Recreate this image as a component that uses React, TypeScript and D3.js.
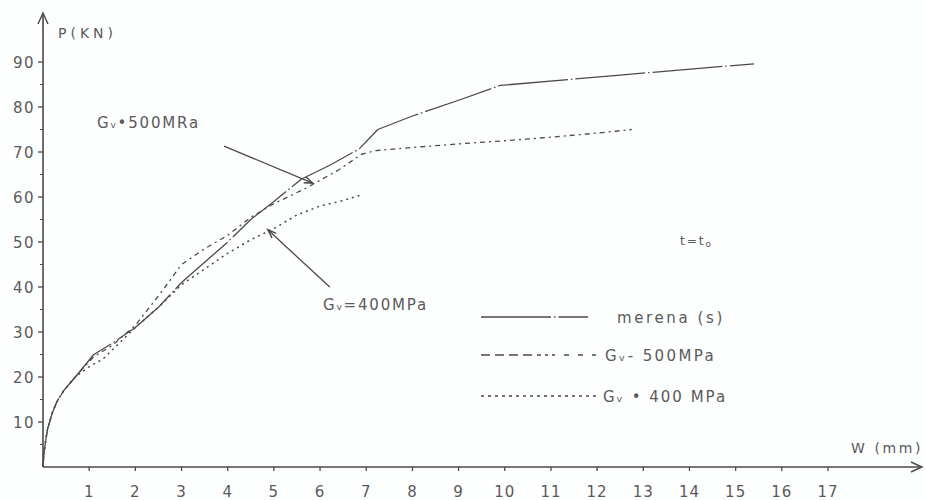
import React from "react";
import * as d3 from "d3";

const W = 925;
const H = 500;

const xTicks = [1, 2, 3, 4, 5, 6, 7, 8, 9, 10, 11, 12, 13, 14, 15, 16, 17];
const yTicks = [10, 20, 30, 40, 50, 60, 70, 80, 90];
const yMinorTicks = [5, 15, 25, 35, 45, 55, 65, 75, 85];

// merena (s) — measured
const merenaW = [0, 0.02, 0.06, 0.1, 0.2, 0.3, 0.45, 0.7, 0.9, 1.1, 1.5, 2, 2.5, 3, 3.5, 4, 4.5, 5, 5.6, 6.2, 6.85, 7.25, 8, 9, 9.9, 12.5, 15.4];
const merenaP = [0, 3, 6, 8.5, 12, 14.5, 17, 20, 22.5, 25, 27.5, 31, 35.5, 41, 45.5, 50, 55, 59, 64, 67, 70.7, 75, 78, 81.5, 84.8, 87.1, 89.6];

// σv = 500 MPa
const s500W = [0, 0.02, 0.06, 0.1, 0.2, 0.3, 0.45, 0.7, 0.9, 1.1, 1.5, 2, 2.5, 3, 3.5, 4, 4.5, 5, 5.7, 6.4, 6.9, 7.2, 8, 9, 10, 11, 12, 12.75];
const s500P = [0, 3, 6, 8.5, 12, 14.5, 17, 20, 22.3, 24.5, 27, 31.5, 38, 45, 48.5, 51.5, 55.5, 58.5, 62, 66, 69.5, 70.3, 71, 71.8, 72.5, 73.3, 74.2, 75];

// σv = 400 MPa
const s400W = [0, 0.02, 0.06, 0.1, 0.2, 0.3, 0.45, 0.7, 1.0, 1.3, 2, 2.5, 3, 3.5, 4, 4.5, 5, 5.5, 6, 6.5, 6.9];
const s400P = [0, 3, 6, 8.5, 12, 14.5, 17, 20, 22.3, 24, 31, 35.5, 40.5, 44, 47.5, 50.5, 53, 56, 58, 59.2, 60.5];

const legendLabels = ["merena  (s)", "G\u1D65- 500MPa", "G\u1D65 \u2022 400 MPa"];

const ink = "#4a4a4a";
const txt = "#5a5a5a";
const font = "'DejaVu Sans', sans-serif";

export default function App() {
  const x = d3.scaleLinear().domain([0, 17]).range([43, 828]);
  const y = d3.scaleLinear().domain([0, 90]).range([467, 62]);
  const line = d3
    .line<[number, number]>()
    .x((d) => x(d[0]))
    .y((d) => y(d[1]))
    .curve(d3.curveLinear);

  const series = [
    { w: merenaW, p: merenaP, dash: "70,3,1.5,3", width: 1.3 },
    { w: s500W, p: s500P, dash: "5,4,2,4", width: 1.3 },
    { w: s400W, p: s400P, dash: "2,4", width: 1.5 },
  ];

  const ann = [
    { from: [3.92, 71.3], to: [5.84, 63.1], label: "500MRa", lx: 97, ly: 128, sep: "\u2022" },
    { from: [6.21, 40], to: [4.87, 52.7], label: "400MPa", lx: 323, ly: 310, sep: "=" },
  ];

  const arrowHead = (fx: number, fy: number, tx: number, ty: number) => {
    const a = Math.atan2(ty - fy, tx - fx);
    const L = 9;
    const s = 0.35;
    const p1 = [tx - L * Math.cos(a - s), ty - L * Math.sin(a - s)];
    const p2 = [tx - L * Math.cos(a + s), ty - L * Math.sin(a + s)];
    return `M${p1[0]},${p1[1]}L${tx},${ty}L${p2[0]},${p2[1]}`;
  };

  return (
    <svg width={W} height={H} style={{ position: "absolute", left: 0, top: 0, background: "#fdfefe" }}>
      <rect x={0} y={0} width={W} height={H} fill="#fdfefe" />
      {/* axes */}
      <line x1={x(0)} y1={y(0)} x2={x(0)} y2={14} stroke={ink} strokeWidth={1.6} />
      <path d={`M38,24L${x(0)},13L48,24`} fill="none" stroke={ink} strokeWidth={1.4} />
      <line x1={x(0)} y1={y(0)} x2={921} y2={y(0)} stroke={ink} strokeWidth={1.6} />
      <path d={`M911,${y(0) - 5}L922,${y(0)}L911,${y(0) + 5}`} fill="none" stroke={ink} strokeWidth={1.4} />

      {yTicks.map((t) => (
        <g key={"y" + t}>
          <line x1={x(0) - 5} x2={x(0)} y1={y(t)} y2={y(t)} stroke={ink} strokeWidth={1.3} />
          <text x={35} y={y(t) + 6} textAnchor="end" fontFamily={font} fontSize={15} fill={txt} letterSpacing={1.5}>
            {t}
          </text>
        </g>
      ))}
      {yMinorTicks.map((t) => (
        <line key={"ym" + t} x1={x(0) - 3} x2={x(0)} y1={y(t)} y2={y(t)} stroke={ink} strokeWidth={1} />
      ))}
      {xTicks.map((t) => (
        <g key={"x" + t}>
          <line x1={x(t)} x2={x(t)} y1={y(0)} y2={y(0) + 4} stroke={ink} strokeWidth={1.3} />
          <text x={x(t)} y={497} textAnchor="middle" fontFamily={font} fontSize={15} fill={txt} letterSpacing={1}>
            {t}
          </text>
        </g>
      ))}

      <text x={58} y={38} fontFamily={font} fontSize={14} fill={txt} letterSpacing={4}>
        P(KN)
      </text>
      <text x={851} y={453} fontFamily={font} fontSize={14} fill={txt} letterSpacing={2.6}>
        W (mm)
      </text>

      {/* series */}
      {series.map((s, i) => (
        <path
          key={"s" + i}
          d={line(s.w.map((w, j) => [w, s.p[j]] as [number, number])) || ""}
          fill="none"
          stroke={ink}
          strokeWidth={s.width}
          strokeDasharray={s.dash}
          strokeLinejoin="round"
        />
      ))}

      {/* annotations */}
      {ann.map((a, i) => {
        const fx = x(a.from[0]);
        const fy = y(a.from[1]);
        const tx = x(a.to[0]);
        const ty = y(a.to[1]);
        return (
          <g key={"a" + i}>
            <line x1={fx} y1={fy} x2={tx} y2={ty} stroke={ink} strokeWidth={1.3} />
            <path d={arrowHead(fx, fy, tx, ty)} fill="none" stroke={ink} strokeWidth={1.5} />
            <text x={a.lx} y={a.ly} fontFamily={font} fontSize={15} fill={txt} letterSpacing={1.8}>
              G<tspan fontSize={9}>v</tspan>{a.sep}{a.label}
            </text>
          </g>
        );
      })}

      <text x={680} y={245} fontFamily={font} fontSize={12} fill={txt} letterSpacing={2}>
        t=t<tspan fontSize={9} dy={2}>o</tspan>
      </text>

      {/* legend */}
      {series.map((s, i) => {
        const ly = [317, 355, 396][i];
        const lx2 = [588, 596, 596][i];
        return (
          <g key={"l" + i}>
            <line
              x1={481}
              x2={lx2}
              y1={ly}
              y2={ly}
              stroke={ink}
              strokeWidth={s.width}
              strokeDasharray={i === 0 ? "70,3,1.5,3" : i === 1 ? "9,5,9,5,9,5,9,5,4,4,3,4,3" : "3,4"}
            />
            <text
              x={[617, 605, 603][i]}
              y={ly + 6}
              fontFamily={font}
              fontSize={15}
              fill={txt}
              letterSpacing={[2.6, 2.4, 2.0][i]}
            >
              {legendLabels[i]}
            </text>
          </g>
        );
      })}
    </svg>
  );
}
